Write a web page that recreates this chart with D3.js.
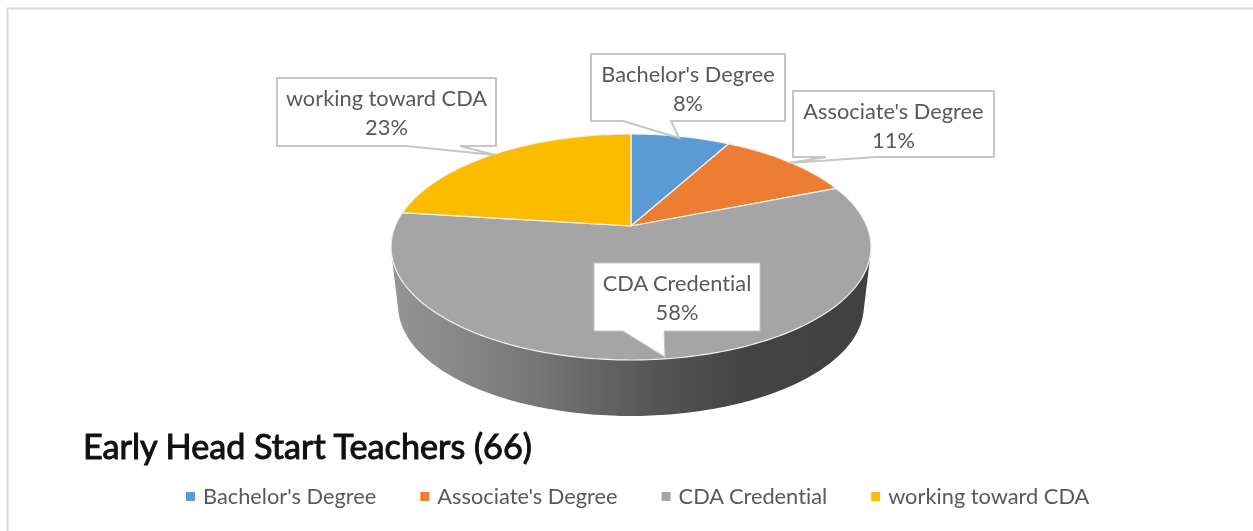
<!DOCTYPE html>
<html>
<head>
<meta charset="utf-8">
<script src="https://cdn.jsdelivr.net/npm/d3@7"></script>
<style>
  html, body { margin: 0; padding: 0; background: #fff; overflow: hidden; }
  text { font-family: Lato, "Open Sans", sans-serif; font-variant-ligatures: none; }
  svg { filter: blur(0.45px); }
</style>
</head>
<body>
<div id="main"></div>
<script>
const categories = ["Bachelor's Degree", "Associate's Degree", "CDA Credential", "working toward CDA"];
const shares = [8, 11, 58, 23];
const colors = ["#5b9bd5", "#ed7d31", "#a5a5a5", "#fbbc00"];
const chartTitle = "Early Head Start Teachers (66)";

const ctx = {
    WIDTH: 1253,
    HEIGHT: 531,
    // apex of the pie on screen and the tilt of the 3D view
    CX: 631,
    CY: 226,
    R: 235.8,
    H: 109.1,
    PERSP: 0.1858,
    DEPTH: 60,
    BASE_SCALE: 0.97,
    LABEL_SIZE: 21.8,
    TEXT: "#595959",
};

// callouts: box and tail, same order as categories
const callouts = [
    { x0: 591, y0: 54, x1: 785, y1: 121, tail: [623, 671], tip: [679, 138] },
    { x0: 793, y0: 91, x1: 994, y1: 157, tail: [826, 876], tip: [789, 163] },
    { x0: 594, y0: 263, x1: 760, y1: 331, tail: [623, 664], tip: [665, 357], onPie: true },
    { x0: 277, y0: 78, x1: 496, y1: 146, tail: [406, 460], tip: [495, 155] },
];

const svg = d3.select("#main").append("svg")
    .attr("width", ctx.WIDTH)
    .attr("height", ctx.HEIGHT)
    .style("display", "block");

// perspective projection of a point of the unit disc, angle clockwise from 12 o'clock
function project(angle, radius, base) {
    const X = radius * Math.sin(angle);
    const Y = radius * Math.cos(angle);
    const s = 1 / (1 + ctx.PERSP * Y);
    const f = base ? ctx.BASE_SCALE : 1;
    return [
        ctx.CX + ctx.R * X * s * f,
        ctx.CY + (base ? ctx.DEPTH : 0) - ctx.H * Y * s * f,
    ];
}

const rimAngles = d3.range(0, 361, 2).map(d => d * Math.PI / 180);
const line = d3.line();

function drawFrame() {
    svg.append("path")
        .attr("d", line([[7.5, ctx.HEIGHT], [7.5, 8.5], [ctx.WIDTH, 8.5]]))
        .attr("fill", "none")
        .attr("stroke", "#d9d9d9")
        .attr("stroke-width", 2);
}

function drawPie() {
    const defs = svg.append("defs");
    const grad = defs.append("linearGradient")
        .attr("id", "wall")
        .attr("gradientUnits", "userSpaceOnUse")
        .attr("x1", ctx.CX - ctx.R).attr("x2", ctx.CX + ctx.R)
        .attr("y1", 0).attr("y2", 0);
    grad.selectAll("stop")
        .data([[0, "#949494"], [0.3, "#767676"], [0.55, "#555555"], [0.75, "#434343"], [1, "#414141"]])
        .enter()
        .append("stop")
        .attr("offset", d => d[0])
        .attr("stop-color", d => d[1]);

    // side wall = hull of the top and the bottom disc
    const hull = d3.polygonHull(
        rimAngles.map(a => project(a, 1, false)).concat(rimAngles.map(a => project(a, 1, true)))
    );
    svg.append("path")
        .attr("d", line(hull) + "Z")
        .attr("fill", "url(#wall)");

    const arcs = d3.pie().sort(null).value(d => d)(shares);

    svg.selectAll("path.slice")
        .data(arcs)
        .enter()
        .append("path")
        .attr("class", "slice")
        .attr("d", d => {
            const n = Math.ceil((d.endAngle - d.startAngle) / 0.02);
            const pts = d3.range(n + 1).map(i =>
                project(d.startAngle + (d.endAngle - d.startAngle) * i / n, 1, false));
            return line([[ctx.CX, ctx.CY]].concat(pts)) + "Z";
        })
        .attr("fill", (d, i) => colors[i])
        .attr("stroke", "#f4f4f4")
        .attr("stroke-width", 1.2)
        .attr("stroke-linejoin", "round");
}

function drawCallouts() {
    const group = svg.selectAll("g.callout")
        .data(callouts)
        .enter()
        .append("g")
        .attr("class", "callout");

    group.append("path")
        .attr("d", d => line([
            [d.x0, d.y0], [d.x1, d.y0], [d.x1, d.y1], [d.tail[1], d.y1],
            d.tip, [d.tail[0], d.y1], [d.x0, d.y1],
        ]) + "Z")
        .attr("fill", "#fff")
        .attr("stroke", "#c6c6c6")
        .attr("stroke-width", d => d.onPie ? 1 : 2);

    group.each(function (d, i) {
        const g = d3.select(this);
        const mx = (d.x0 + d.x1) / 2;
        g.append("text")
            .attr("x", mx)
            .attr("y", d.y0 + 28)
            .text(categories[i]);
        g.append("text")
            .attr("x", mx)
            .attr("y", d.y0 + 57)
            .text(shares[i] + "%");
    });

    group.selectAll("text")
        .attr("text-anchor", "middle")
        .attr("font-size", ctx.LABEL_SIZE)
        .attr("fill", ctx.TEXT);
}

function drawTitle() {
    svg.append("text")
        .attr("x", 83)
        .attr("y", 459)
        .attr("font-size", 34.2)
        .attr("fill", "#111")
        .attr("stroke", "#111")
        .attr("stroke-width", 1)
        .text(chartTitle);
}

function drawLegend() {
    let x = 186;
    categories.forEach((name, i) => {
        svg.append("rect")
            .attr("x", x)
            .attr("y", 492)
            .attr("width", 9)
            .attr("height", 9)
            .attr("fill", colors[i]);
        const label = svg.append("text")
            .attr("x", x + 17)
            .attr("y", 504)
            .attr("font-size", ctx.LABEL_SIZE)
            .attr("fill", ctx.TEXT)
            .text(name);
        x += 17 + label.node().getComputedTextLength() + 44;
    });
}

function createViz() {
    drawFrame();
    drawPie();
    drawCallouts();
    drawTitle();
    drawLegend();
}

createViz();
</script>
</body>
</html>
